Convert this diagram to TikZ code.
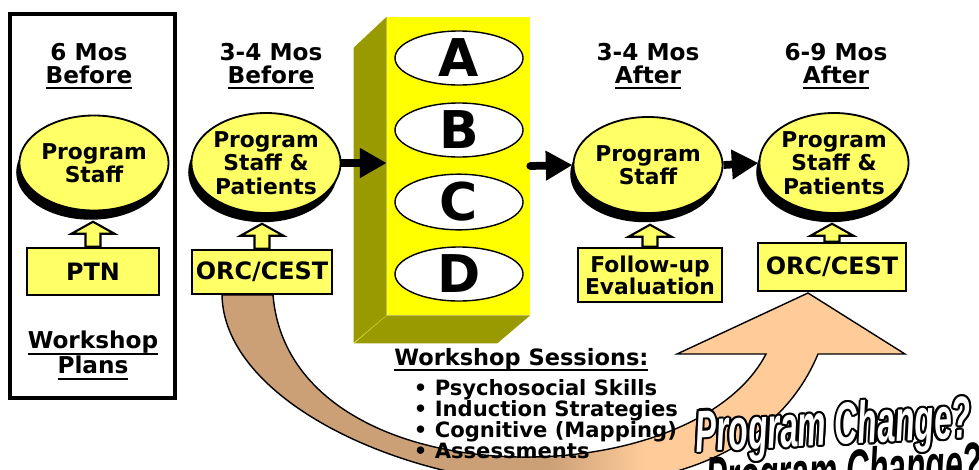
\documentclass[tikz,border=0pt]{standalone}
\usepackage{fontspec}
\setmainfont{DejaVu Sans}
\newfontfamily\artfont{Liberation Sans}
\usepackage{tikz}
\usetikzlibrary{positioning,shapes.geometric,shadows,arrows.meta}

\definecolor{paleyellow}{HTML}{FFFF66}
\definecolor{boxyellow}{HTML}{FFFF00}
\definecolor{boxolive}{HTML}{999900}
\definecolor{arcbrown}{HTML}{CCA077}
\definecolor{arcpeach}{HTML}{FFCC99}

\pgfdeclarehorizontalshading{arcshade}{100bp}{color(0bp)=(arcbrown); color(49bp)=(arcbrown); color(56bp)=(arcpeach); color(100bp)=(arcpeach)}

\newcommand\undertext[1]{\setbox0\hbox{#1}\rlap{\rule[-4.2pt]{\wd0}{1.5pt}}\box0}
\newcommand\liftarrow[2]{\draw[lift] (#1.north) ++(-7.5,0) -- ++(0,-#2) -- ++(-14,0) -- ++(21.5,-12) -- ++(21.5,12) -- ++(-14,0) -- ++(0,#2) -- cycle;}

\begin{document}
\begin{tikzpicture}[x=0.025cm,y=-0.025cm,
	head/.style={anchor=north,align=center,inner sep=0pt,font=\fontsize{16.5}{16.3}\selectfont\bfseries},
	who/.style={ellipse,draw,line width=1.3pt,fill=paleyellow,inner sep=0pt,align=center,
		font=\fontsize{15.5}{16.5}\selectfont\bfseries,
		drop shadow={shadow xshift=-0.08cm,shadow yshift=-0.23cm,opacity=1,fill=black}},
	source/.style={draw,line width=1.8pt,fill=paleyellow,inner sep=0pt,align=center,
		font=\fontsize{17}{15.5}\selectfont\bfseries},
	letter/.style={ellipse,draw,line width=1pt,fill=white,inner sep=0pt,
		minimum width=3.2cm,minimum height=1.35cm,font=\fontsize{37}{37}\selectfont\bfseries},
	lift/.style={draw,line width=1.5pt,fill=paleyellow},
	flow/.style={line width=5.5pt,-{Triangle[length=19pt,width=20pt]}},
	changetext/.style={anchor=base west,rotate=3,xscale=0.54,inner sep=0pt,
		font=\artfont\fontsize{42}{42}\selectfont\bfseries\itshape}]
	\useasboundingbox (0,0) rectangle (979,469);

	% curved arrow behind everything
	\shadedraw[shading=arcshade,line width=1pt] (222,295) .. controls (225,470) and (720,590) .. (818,354)
		-- (905,354) -- (808,293) -- (677,354) -- (766,354)
		.. controls (690,500) and (290,500) .. (273,295) -- cycle;

	% left frame
	\draw[line width=3.5pt] (10,14) rectangle (175,398);

	% time headings
	\node[head] (t1) at (89,43) {6 Mos\\\undertext{Before}};
	\node[head] (t2) at (271,43) {3-4 Mos\\\undertext{Before}};
	\node[head] (t4) at (648,43) {3-4 Mos\\\undertext{After}};
	\node[head] (t5) at (836,43) {6-9 Mos\\\undertext{After}};
	\node[head] (plans) at (93,331) {\undertext{Workshop}\\\undertext{Plans}};

	% people
	\node[who,minimum width=3.25cm,minimum height=2.375cm] (e1) at (94,163) {Program\\Staff};
	\node[who,minimum width=3.35cm,minimum height=2.5cm] (e2) at (266,163) {Program\\Staff \&\\Patients};
	\node[who,minimum width=3.3cm,minimum height=2.4cm] (e4) at (648,165) {Program\\Staff};
	\node[who,minimum width=3.5cm,minimum height=2.5cm] (e5) at (834,163) {Program\\Staff \&\\Patients};

	% sources
	\node[source,minimum width=3.3cm,minimum height=1.175cm] (ptn) at (93,271.5) {PTN};
	\node[source,minimum width=3.5cm,minimum height=1.1cm] (orc1) at (262,272) {ORC/CEST};
	\node[source,minimum width=3.6cm,minimum height=1.35cm,font=\fontsize{15.5}{15.5}\selectfont\bfseries] (follow) at (650,275) {Follow-up\\Evaluation};
	\node[source,minimum width=3.7cm,minimum height=1.2cm] (orc2) at (832,267) {ORC/CEST};

	\liftarrow{ptn}{13}
	\liftarrow{orc1}{13}
	\liftarrow{follow}{10}
	\liftarrow{orc2}{6}

	% session block
	\node[fill=boxyellow,minimum width=3.575cm,minimum height=7.45cm,inner sep=0pt] (stack) at (458.5,166) {};
	\fill[boxolive] (stack.north west) -- ++(-33,31) -- ++(0,295) -- (stack.south west) -- cycle;
	\fill[boxolive] (stack.south west) -- (stack.south east) -- ++(-33,28) -- ++(-143,0) -- cycle;
	\draw[boxolive!50!boxyellow,thin] (stack.south west) -- ++(-33,28);
	\foreach \l [count=\i] in {A,B,C,D}
		\node[letter] (s\l) at (459,{58+72*(\i-1)}) {\l};

	% flow arrows
	\draw[flow] (e2.east) -- (stack.west |- e2.east);
	\draw[flow,line cap=round] (stack.east) -- (e4.west);
	\draw[flow] (e4.east) -- (e5.west);

	% sessions list
	\node[anchor=north west,align=left,inner sep=0pt,font=\fontsize{15}{14.9}\selectfont\bfseries] (sess) at (394,348)
		{{\fontsize{16}{16}\selectfont\undertext{Workshop Sessions:}}\\[5pt]
		\hspace*{14pt}\textbullet\ Psychosocial Skills\\
		\hspace*{14pt}\textbullet\ Induction Strategies\\
		\hspace*{14pt}\textbullet\ Cognitive (Mapping)\\
		\hspace*{14pt}\textbullet\ Assessments};

	% program change lettering
	\coordinate (pcbase) at (696,452);
	\node[changetext,text=black] (pcshadow) at ([shift={(8pt,-33pt)}]pcbase) {Program Change?};
	\foreach \a in {0,30,...,330}
		\node[changetext,text=black] (pcring\a) at ([shift={(\a:1.5pt)}]pcbase) {Program Change?};
	\node[changetext,text=white] (pc) at (pcbase) {Program Change?};
\end{tikzpicture}
\end{document}
